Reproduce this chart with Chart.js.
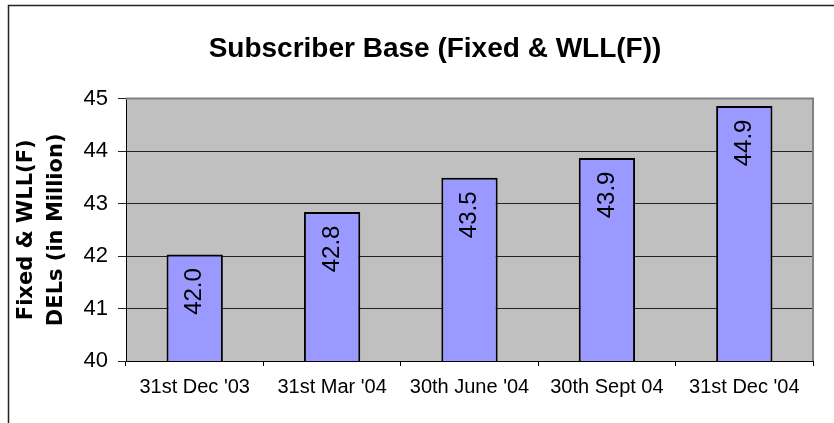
<!DOCTYPE html>
<html>
<head>
<meta charset="utf-8">
<script src="https://cdn.jsdelivr.net/npm/chart.js@4.4.1/dist/chart.umd.min.js"></script>
<style>
  html, body { margin: 0; padding: 0; background: #fff; overflow: hidden; }
  #wrap { position: relative; width: 870px; height: 423px; }
</style>
</head>
<body>
<div id="wrap"><canvas id="c"></canvas></div>
<script>
// data
var categories = ["31st Dec '03", "31st Mar '04", "30th June '04", "30th Sept 04", "31st Dec '04"];
var subscribers = [42.03, 42.84, 43.49, 43.87, 44.86];
var yTicks = [40, 41, 42, 43, 44, 45];

var titleText = 'Subscriber Base (Fixed & WLL(F))';
var yTitle = ['Fixed & WLL(F)', 'DELs (in Million)'];

// grey plot background + outer frame
var frame = {
  id: 'frame',
  beforeDraw: function(chart) {
    var ctx = chart.ctx, a = chart.chartArea;
    ctx.save();
    ctx.fillStyle = '#fff';
    ctx.fillRect(0, 0, chart.width, chart.height);
    ctx.fillStyle = '#C0C0C0';
    ctx.fillRect(a.left, a.top, a.right - a.left, a.bottom - a.top);
    ctx.strokeStyle = '#222';
    ctx.lineWidth = 1.5;
    ctx.strokeRect(8.5, 5.5, 854, 440);
    ctx.restore();
  },
  afterDraw: function(chart) {
    var ctx = chart.ctx, a = chart.chartArea;
    ctx.save();
    ctx.strokeStyle = '#808080';
    ctx.lineWidth = 2;
    ctx.beginPath();
    ctx.moveTo(a.left, a.top);
    ctx.lineTo(a.right, a.top);
    ctx.lineTo(a.right, a.bottom);
    ctx.stroke();
    ctx.restore();
  }
};

// rotated value labels inside the bars
var barLabels = {
  id: 'barLabels',
  afterDatasetsDraw: function(chart) {
    var ctx = chart.ctx;
    var meta = chart.getDatasetMeta(0);
    ctx.save();
    ctx.font = '24px "Liberation Sans", Arial, sans-serif';
    ctx.fillStyle = '#000';
    ctx.textAlign = 'center';
    ctx.textBaseline = 'middle';
    meta.data.forEach(function(bar, i) {
      var h = bar.base - bar.y;
      var cy = h < 165 ? (bar.y + bar.base) / 2 : bar.y + 37;
      ctx.save();
      ctx.translate(bar.x, cy);
      ctx.rotate(-Math.PI / 2);
      ctx.fillText(subscribers[i].toFixed(1), 0, 0);
      ctx.restore();
    });
    ctx.restore();
  }
};

new Chart(document.getElementById('c'), {
  type: 'bar',
  data: {
    labels: categories,
    datasets: [{
      data: subscribers,
      backgroundColor: '#9999FF',
      borderColor: '#000',
      borderWidth: 2,
      barPercentage: 0.41,
      categoryPercentage: 1
    }]
  },
  options: {
    responsive: true,
    maintainAspectRatio: false,
    animation: false,
    devicePixelRatio: 1,
    layout: { padding: 0 },
    plugins: {
      legend: { display: false },
      tooltip: { enabled: false },
      title: {
        display: true,
        text: titleText,
        color: '#000',
        font: { family: '"Liberation Sans", Arial, sans-serif', size: 28, weight: 'bold', lineHeight: 1.2 },
        padding: { top: 32, bottom: 33 }
      }
    },
    scales: {
      x: {
        afterFit: function(s) { s.height = 62; },
        ticks: {
          color: '#000',
          font: { family: '"Liberation Sans", Arial, sans-serif', size: 20 },
          padding: 9,
          maxRotation: 0,
          autoSkip: false
        },
        grid: { offset: true, drawOnChartArea: false, tickLength: 5, color: '#000' },
        border: { color: '#000', width: 1 }
      },
      y: {
        min: 40,
        max: 45,
        afterFit: function(s) { s.width = 126; },
        afterBuildTicks: function(s) { s.ticks = yTicks.map(function(v) { return { value: v }; }); },
        ticks: {
          color: '#000',
          font: { family: '"Liberation Sans", Arial, sans-serif', size: 22 },
          padding: 10
        },
        grid: { color: '#222', lineWidth: 1, tickLength: 8 },
        border: { color: '#000', width: 1 },
        title: {
          display: true,
          text: yTitle,
          color: '#000',
          font: { family: '"DejaVu Sans", sans-serif', size: 21, weight: 'bold', lineHeight: '30px' },
          padding: { top: 12, bottom: 0 }
        }
      },
      // empty right-hand axis, only reserves the white margin right of the plot
      yRight: {
        position: 'right',
        min: 40,
        max: 45,
        afterFit: function(s) { s.width = 57; },
        ticks: { display: false },
        grid: { display: false },
        border: { display: false }
      }
    }
  },
  plugins: [frame, barLabels]
});
</script>
</body>
</html>
